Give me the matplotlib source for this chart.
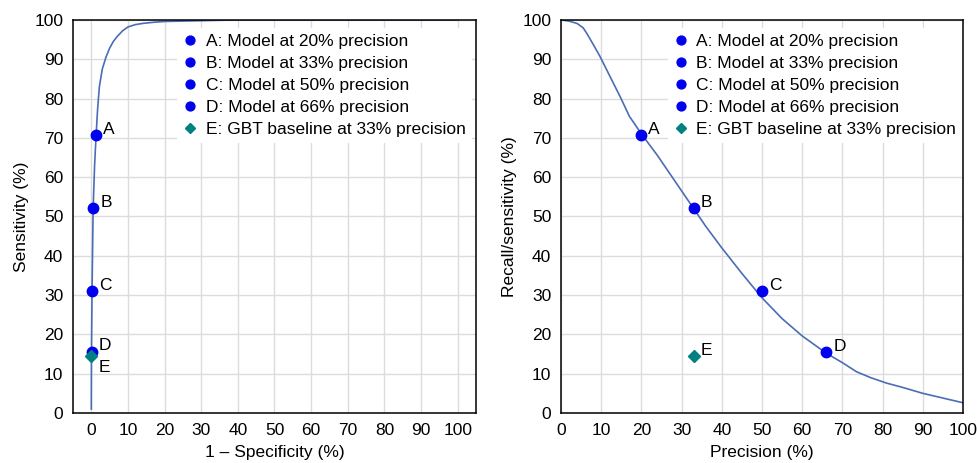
import matplotlib.pyplot as plt

plt.rcParams['font.family'] = ['Liberation Sans', 'DejaVu Sans']
plt.rcParams['font.size'] = 12.5

# ROC curve (1 - specificity, sensitivity), in %
roc_fpr = [0, 0.05, 0.2, 0.5, 0.9, 1.3, 1.7, 2.2, 3, 4, 5, 6, 7, 8.5, 10, 12, 14, 17, 20, 25, 30, 40, 100]
roc_tpr = [1, 15, 31, 52, 63, 70.5, 77, 83, 87.5, 90.5, 92.8, 94.5, 95.7, 97.2, 98.2, 98.8, 99.1,
           99.4, 99.6, 99.7, 99.8, 100, 100]

# Precision-recall curve, in %
pr_prec = [0, 2, 4, 5.5, 6.4, 8, 9.7, 12, 14.7, 17, 20, 24, 27, 30, 33, 36, 40, 45, 50, 55, 60, 66,
           70, 73.5, 77, 81, 85, 90, 95, 100]
pr_rec = [100, 99.7, 99.1, 98, 96.6, 93.8, 90.7, 86, 80.5, 75.5, 71, 65.5, 61, 56.5, 52, 47.5, 42,
          35.5, 29.3, 24, 19.6, 15.2, 12.8, 10.5, 9, 7.6, 6.5, 5, 3.8, 2.6]

# Operating points
pt_names = ['A', 'B', 'C', 'D']
pt_labels = ['A: Model at 20% precision', 'B: Model at 33% precision',
             'C: Model at 50% precision', 'D: Model at 66% precision']
pt_fpr = [1.4, 0.6, 0.3, 0.1]
pt_prec = [20, 33, 50, 66]
pt_rec = [70.6, 52.1, 31.1, 15.4]

base_label = 'E: GBT baseline at 33% precision'
base_fpr = 0.05
base_prec = 33
base_rec = 14.5

line_color = '#4a6db5'
pt_color = '#0000f0'
base_color = '#008080'
fs = 12.5

fig = plt.figure(figsize=(9.77, 4.63), dpi=100)
ax1 = fig.add_axes([0.0747, 0.108, 0.4125, 0.849])
ax2 = fig.add_axes([0.5742, 0.108, 0.4115, 0.849])


def style(ax, xlim):
    ax.set_xlim(*xlim)
    ax.set_ylim(0, 100)
    ax.set_xticks(range(0, 101, 10))
    ax.set_yticks(range(0, 101, 10))
    ax.grid(True, color='#dcdcdc', lw=1)
    ax.set_axisbelow(True)
    ax.tick_params(length=0, pad=7, labelsize=fs)
    for s in ax.spines.values():
        s.set_linewidth(1.1)
        s.set_color('black')


offsets = {'A': (5, 4), 'B': (5, 4), 'C': (5, 4), 'D': (5, 5), 'E': (5, -8)}

# Left: ROC
style(ax1, (-5, 105))
ax1.plot(roc_fpr, roc_tpr, color=line_color, lw=1.2, zorder=2)
for n, lab, x, y in zip(pt_names, pt_labels, pt_fpr, pt_rec):
    ax1.plot(x, y, 'o', color=pt_color, ms=7.5, label=lab, zorder=3)
    ax1.annotate(n, (x, y), xytext=offsets[n], textcoords='offset points',
                 ha='left', va='center', fontsize=fs)
ax1.plot(base_fpr, base_rec, 'D', color=base_color, ms=6.5, label=base_label, zorder=4)
ax1.annotate('E', (base_fpr, base_rec), xytext=offsets['E'], textcoords='offset points',
             ha='left', va='center', fontsize=fs)
ax1.set_xlabel('1 – Specificity (%)', fontsize=fs, labelpad=5)
ax1.set_ylabel('Sensitivity (%)', fontsize=fs, labelpad=4)

# Right: precision-recall
style(ax2, (0, 100))
ax2.plot(pr_prec, pr_rec, color=line_color, lw=1.2, zorder=2)
for n, lab, x, y in zip(pt_names, pt_labels, pt_prec, pt_rec):
    ax2.plot(x, y, 'o', color=pt_color, ms=7.5, label=lab, zorder=3)
    ax2.annotate(n, (x, y), xytext=(5, 4), textcoords='offset points',
                 ha='left', va='center', fontsize=fs)
ax2.plot(base_prec, base_rec, 'D', color=base_color, ms=6.5, label=base_label, zorder=4)
ax2.annotate('E', (base_prec, base_rec), xytext=(5, 4), textcoords='offset points',
             ha='left', va='center', fontsize=fs)
ax2.set_xlabel('Precision (%)', fontsize=fs, labelpad=5)
ax2.set_ylabel('Recall/sensitivity (%)', fontsize=fs, labelpad=4)

for ax, x0 in ((ax1, 0.258), (ax2, 0.265)):
    leg = ax.legend(loc='upper left', bbox_to_anchor=(x0, 0.98), frameon=True,
                    fancybox=False, framealpha=1, edgecolor='none', facecolor='white',
                    handlelength=0.8, handletextpad=0.5, labelspacing=0.4,
                    borderpad=0.35, borderaxespad=0, fontsize=fs, markerscale=0.85)

fig.savefig('out.png', dpi=100)
